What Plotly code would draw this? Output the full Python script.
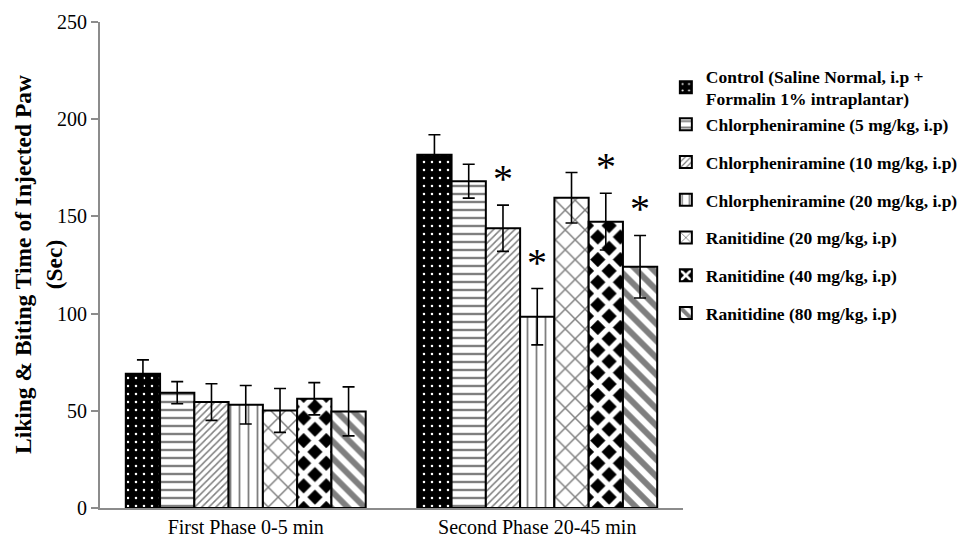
import plotly.graph_objects as go

categories = ["First Phase 0-5 min", "Second Phase 20-45 min"]
series_names = [
    "Control (Saline Normal, i.p +<br>Formalin 1% intraplantar)",
    "Chlorpheniramine (5 mg/kg, i.p)",
    "Chlorpheniramine (10 mg/kg, i.p)",
    "Chlorpheniramine (20 mg/kg, i.p)",
    "Ranitidine (20 mg/kg, i.p)",
    "Ranitidine (40 mg/kg, i.p)",
    "Ranitidine (80 mg/kg, i.p)",
]
means_phase1 = [69, 59.3, 54.5, 53.1, 50.2, 56.2, 49.7]
means_phase2 = [181.7, 168.1, 143.9, 98.4, 159.6, 147.3, 124.1]
err_phase1 = [7.2, 5.7, 9.4, 9.9, 11.3, 8.3, 12.6]
err_phase2 = [10.3, 8.7, 11.9, 14.5, 13.0, 14.6, 16.1]
significant_phase2 = [False, False, True, True, False, True, True]

patterns = [
    dict(shape=".", bgcolor="black", fgcolor="white", size=8, solidity=0.08, fillmode="replace"),
    dict(shape="-", bgcolor="white", fgcolor="black", size=8, solidity=0.3),
    dict(shape="/", bgcolor="white", fgcolor="black", size=5, solidity=0.3),
    dict(shape="|", bgcolor="white", fgcolor="black", size=9, solidity=0.2),
    dict(shape="x", bgcolor="white", fgcolor="black", size=14, solidity=0.2),
    dict(shape="x", bgcolor="black", fgcolor="white", size=16, solidity=0.55, fillmode="replace"),
    dict(shape="\\", bgcolor="white", fgcolor="black", size=12, solidity=0.5),
]
legend_groups = ["g0", "g0", "g2", "g3", "g4", "g5", "g6"]

fig = go.Figure()
for i, name in enumerate(series_names):
    fig.add_trace(go.Bar(
        name=name,
        x=categories,
        y=[means_phase1[i], means_phase2[i]],
        error_y=dict(type="data", array=[err_phase1[i], err_phase2[i]],
                     color="black", thickness=1.6, width=6),
        marker=dict(color="white", pattern=patterns[i],
                    line=dict(color="black", width=2)),
        legendgroup=legend_groups[i],
    ))

# significance asterisks above error bars (second phase)
n = len(series_names)
for i in range(n):
    if significant_phase2[i]:
        fig.add_annotation(
            x=categories[1], y=means_phase2[i] + err_phase2[i],
            xref="x", yref="y",
            text="*", showarrow=False,
            xshift=(i - (n - 1) / 2) * 34.3,
            yanchor="bottom", yshift=2,
            font=dict(family="Liberation Serif", size=40, color="black"),
        )

# y-axis title
fig.add_annotation(
    text="<b>Liking &amp; Biting Time of Injected Paw<br>(Sec)</b>",
    xref="paper", yref="paper", x=-0.1063, y=0.5,
    textangle=-90, showarrow=False, xanchor="center", yanchor="middle",
    font=dict(family="Liberation Serif", size=23.5, color="black"),
)

fig.update_layout(
    width=969, height=537,
    margin=dict(l=92, r=294, t=14, b=37, autoexpand=False),
    plot_bgcolor="white", paper_bgcolor="white",
    barmode="group", bargap=0.177, bargroupgap=0,
    font=dict(family="Liberation Serif", color="black"),
    showlegend=True,
    legend=dict(
        x=0.9706, y=0.926, xanchor="left", yanchor="top",
        font=dict(family="Liberation Serif", size=17.5, color="black", weight="bold"),
        tracegroupgap=12, itemwidth=30, bgcolor="rgba(0,0,0,0)",
        traceorder="grouped",
    ),
    xaxis=dict(
        showline=True, linecolor="#8c8c8c", linewidth=2, automargin=False,
        ticks="", tickfont=dict(size=20, family="Liberation Serif", color="black"),
        showgrid=False,
    ),
    yaxis=dict(
        range=[0, 250], tickvals=[0, 50, 100, 150, 200, 250], automargin=False,
        showline=True, linecolor="#8c8c8c", linewidth=2,
        ticks="outside", ticklen=7, tickcolor="#8c8c8c", tickwidth=2,
        tickfont=dict(size=20, family="Liberation Serif", color="black"),
        showgrid=False, zeroline=False,
    ),
)

fig.write_html("out.html")
